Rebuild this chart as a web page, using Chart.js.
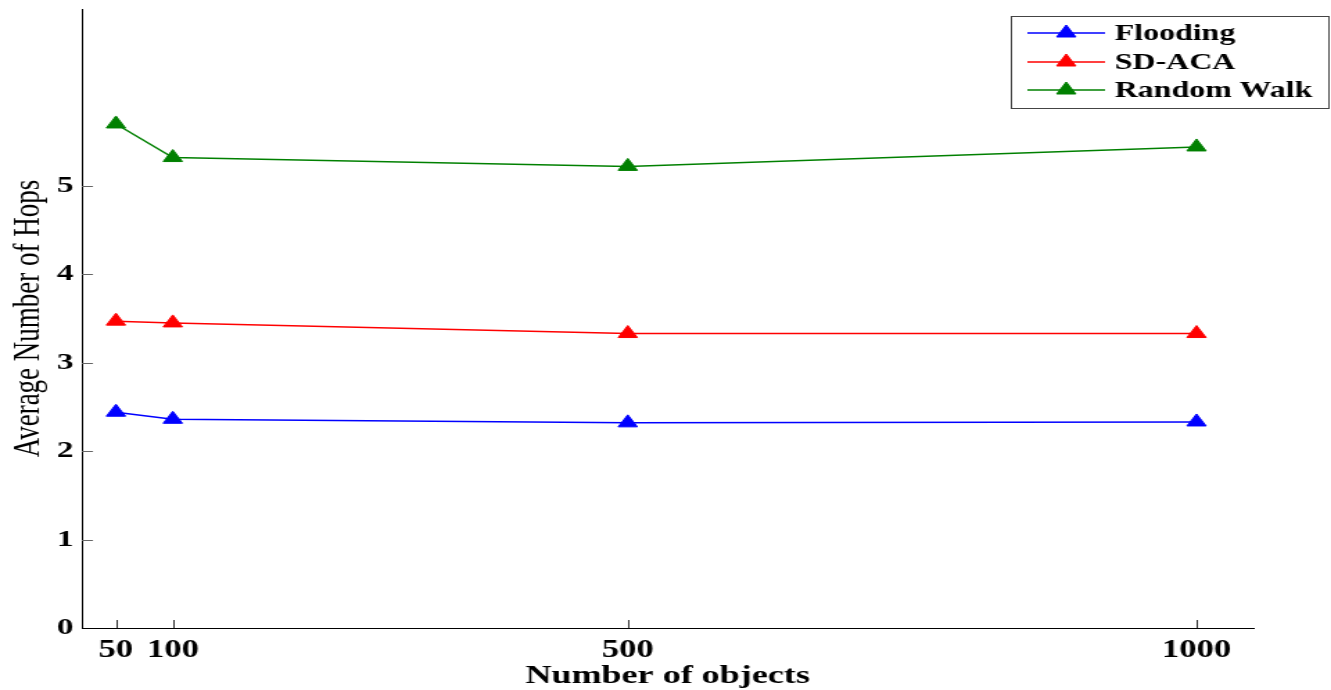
<!DOCTYPE html>
<html>
<head>
<meta charset="utf-8">
<script src="https://cdn.jsdelivr.net/npm/chart.js@4"></script>
<style>
  html, body { margin: 0; padding: 0; background: #fff; overflow: hidden; }
  #wrap { width: 960px; height: 690px; transform: scaleX(1.3865); transform-origin: 0 0; }
</style>
</head>
<body>
<div id="wrap"><canvas id="hopsChart" width="960" height="690"></canvas></div>
<script>
const objects = [50, 100, 500, 1000];
const flooding = [2.44, 2.36, 2.32, 2.33];
const sdAca = [3.47, 3.45, 3.33, 3.33];
const randomWalk = [5.70, 5.32, 5.22, 5.44];
const xTicks = [50, 100, 500, 1000];
const yTicks = [0, 1, 2, 3, 4, 5];

Chart.defaults.font.family = "'Liberation Serif', 'Times New Roman', serif";
Chart.defaults.color = '#000';

function toPoints(values) {
  return objects.map((x, i) => ({ x: x, y: values[i] }));
}

function makeSeries(label, values, color) {
  return {
    label: label,
    data: toPoints(values),
    borderColor: color,
    backgroundColor: color,
    borderWidth: 1.5,
    pointStyle: 'triangle',
    pointRadius: 8,
    pointBorderWidth: 1,
    tension: 0
  };
}

// small tick marks drawn inward from the axes
const innerTicks = {
  id: 'innerTicks',
  afterDraw(chart) {
    const ctx = chart.ctx;
    const area = chart.chartArea;
    const xs = chart.scales.x;
    const ys = chart.scales.y;
    ctx.save();
    ctx.lineWidth = 1;
    ctx.strokeStyle = '#666';
    yTicks.forEach(v => {
      if (v === 0) return;
      const y = Math.round(ys.getPixelForValue(v)) + 0.5;
      ctx.beginPath();
      ctx.moveTo(area.left, y);
      ctx.lineTo(area.left + 8, y);
      ctx.stroke();
    });
    ctx.strokeStyle = '#333';
    xTicks.forEach(v => {
      const x = Math.round(xs.getPixelForValue(v)) + 0.5;
      ctx.beginPath();
      ctx.moveTo(x, area.bottom);
      ctx.lineTo(x, area.bottom - 8);
      ctx.stroke();
    });
    ctx.restore();
  }
};

// boxed legend in the top right corner
const boxLegend = {
  id: 'boxLegend',
  afterDraw(chart) {
    const ctx = chart.ctx;
    const rows = [33, 62, 90];
    ctx.save();
    ctx.fillStyle = '#fff';
    ctx.fillRect(729.5, 16.5, 229, 92);
    ctx.strokeStyle = '#444';
    ctx.lineWidth = 1;
    ctx.strokeRect(729.5, 16.5, 229, 92);
    chart.data.datasets.forEach((ds, i) => {
      const y = rows[i];
      ctx.strokeStyle = ds.borderColor;
      ctx.lineWidth = 1.5;
      ctx.beginPath();
      ctx.moveTo(741, y);
      ctx.lineTo(797, y);
      ctx.stroke();
      ctx.fillStyle = ds.backgroundColor;
      ctx.lineWidth = 1;
      Chart.helpers.drawPoint(ctx, { pointStyle: 'triangle', radius: 8, borderWidth: 1 }, 769, y);
      ctx.fillStyle = '#000';
      ctx.font = "bold 23px 'Liberation Serif', serif";
      ctx.textBaseline = 'middle';
      ctx.textAlign = 'left';
      ctx.fillText(ds.label, 804, y + 1);
    });
    ctx.restore();
  }
};

const ctx = document.getElementById('hopsChart').getContext('2d');
const hopsChart = new Chart(ctx, {
  type: 'line',
  data: {
    datasets: [
      makeSeries('Flooding', flooding, '#0000ff'),
      makeSeries('SD-ACA', sdAca, '#ff0000'),
      makeSeries('Random Walk', randomWalk, '#008000')
    ]
  },
  options: {
    responsive: false,
    devicePixelRatio: 1,
    animation: false,
    layout: { padding: { top: 8, right: 56, left: 0, bottom: 0 } },
    plugins: {
      legend: { display: false },
      tooltip: { enabled: false }
    },
    scales: {
      x: {
        type: 'linear',
        min: 20,
        max: 1050,
        afterBuildTicks: scale => { scale.ticks = xTicks.map(v => ({ value: v })); },
        afterFit: scale => { scale.height = 62; scale.paddingLeft = 0; scale.paddingRight = 0; },
        grid: { display: false, drawTicks: false },
        border: { display: true, color: '#000', width: 1 },
        ticks: {
          padding: 8,
          font: { size: 25, weight: 'bold' },
          maxRotation: 0,
          callback: value => String(value)
        },
        title: {
          display: true,
          text: 'Number of objects',
          font: { size: 26, weight: 'bold' },
          padding: { top: 0, bottom: -2 }
        }
      },
      y: {
        min: 0,
        max: 7,
        afterBuildTicks: scale => { scale.ticks = yTicks.map(v => ({ value: v })); },
        afterFit: scale => { scale.width = 59; scale.paddingTop = 0; scale.paddingBottom = 0; },
        grid: { display: false, drawTicks: false },
        border: { display: true, color: '#000', width: 1 },
        ticks: { padding: 6, font: { size: 24, weight: 'bold' }, callback: value => String(value) },
        title: {
          display: true,
          text: 'Average Number of Hops',
          font: { size: 27, weight: 'normal' },
          padding: { top: 5, bottom: 0 }
        }
      }
    }
  },
  plugins: [innerTicks, boxLegend]
});
</script>
</body>
</html>
